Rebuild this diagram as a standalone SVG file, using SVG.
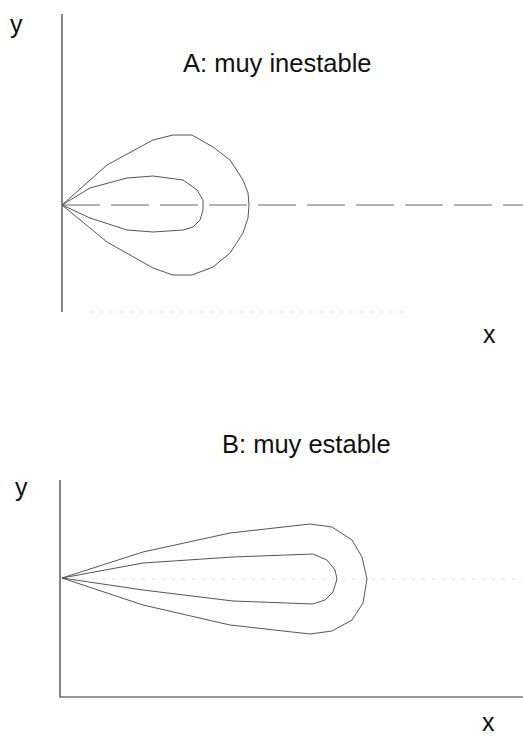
<svg xmlns="http://www.w3.org/2000/svg" width="523" height="736" viewBox="0 0 523 736">
<style>
text{font-family:"Liberation Sans",Arial,sans-serif;fill:#111}
.lbl{font-size:25px}
.ttl{font-size:25.5px}
.axis{stroke:#333;stroke-width:1.2;fill:none}
.curve{stroke:#555;stroke-width:1;fill:none;stroke-linejoin:round}
.faint{stroke:#ddd;stroke-width:1;fill:none;stroke-dasharray:3 7}
.center{stroke:#666;stroke-width:1;fill:none;stroke-dasharray:38 11}
</style>
<rect width="523" height="736" fill="#fff"/>
<g id="panelA">
  <g id="axesA">
    <line class="axis" x1="62" y1="14" x2="62" y2="312"/>
    <line class="faint" x1="90" y1="312" x2="410" y2="312"/>
  </g>
  <text class="lbl" x="10" y="33">y</text>
  <text class="lbl" x="483" y="343">x</text>
  <text class="ttl" x="183" y="72">A: muy inestable</text>
  <g id="connectorsA">
    <line class="center" x1="62" y1="205" x2="523" y2="205"/>
    <polyline id="outerA" class="curve" points="62,205 107,165 153,140 173,135 192,135 213,147 230,160 243,180 248,193 249,205 248,218 243,233 230,253 213,267 192,275 173,275 153,268 107,242 62,205"/>
    <polyline id="innerA" class="curve" points="62,205 90,188 127,178 153,176 183,180 197,190 203,200 203,210 200,220 193,227 183,230 153,232 127,230 90,218 62,205"/>
  </g>
</g>
<g id="panelB">
  <g id="axesB">
    <polyline class="axis" points="60,480 60,697 523,697"/>
  </g>
  <text class="lbl" x="15" y="496">y</text>
  <text class="lbl" x="482" y="731">x</text>
  <text class="ttl" x="222" y="453">B: muy estable</text>
  <g id="connectorsB">
    <line class="faint" x1="62" y1="579" x2="523" y2="579"/>
    <polyline id="outerB" class="curve" points="62,578 143,552 230,533 310,524 332,527 352,540 362,557 367,579 363,603 352,620 332,631 310,634 230,625 143,605 62,578"/>
    <polyline id="innerB" class="curve" points="62,578 143,563 233,557 313,554 327,560 335,570 337,579 333,592 325,600 313,604 233,601 143,590 62,578"/>
  </g>
</g>
</svg>
